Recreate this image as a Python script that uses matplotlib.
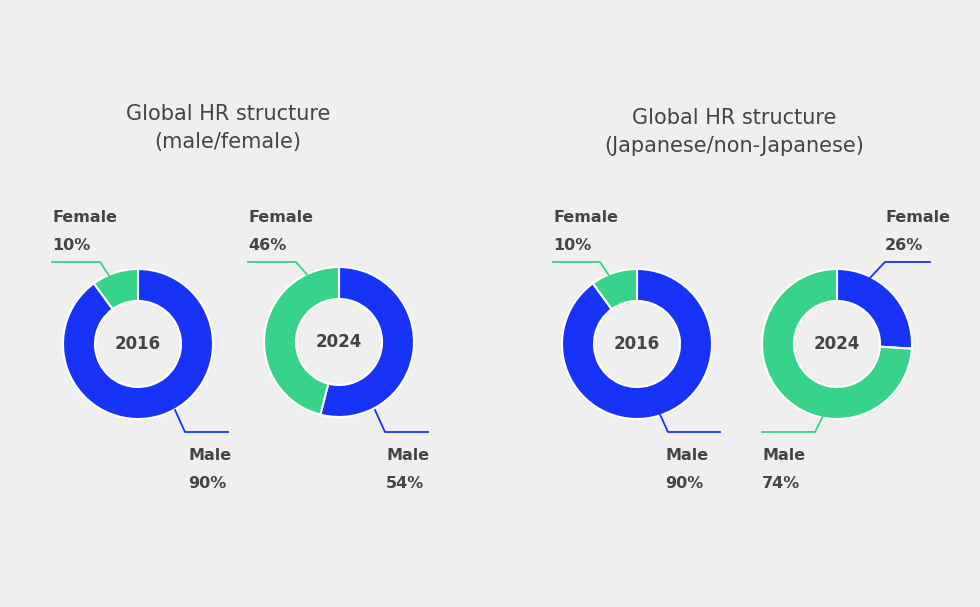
import matplotlib.pyplot as plt

W, H = 980, 607
BLUE = '#1733f7'
GREEN = '#38d38b'
TXT = '#444444'

titles = ['Global HR structure\n(male/female)', 'Global HR structure\n(Japanese/non-Japanese)']
years = ['2016', '2024', '2016', '2024']
# values in drawing order (clockwise from 12 o'clock): blue part, green part
blue_vals = [90, 54, 90, 26]
green_vals = [10, 46, 10, 74]
blue_names = ['Male', 'Male', 'Male', 'Female']
green_names = ['Female', 'Female', 'Female', 'Male']

centers = [(138, 344), (339, 342), (637, 344), (837, 344)]
# label placements: (text x, text y top, line points) in pixel coords
green_lab = [(52, 218, 'left', [(52, 262), (100, 262), (112, 280)]),
             (248, 218, 'left', [(248, 262), (296, 262), (310, 278)]),
             (553, 218, 'left', [(553, 262), (600, 262), (612, 280)]),
             (762, 456, 'left', [(762, 432), (815, 432), (825, 412)])]
blue_lab = [(188, 456, 'left', [(175, 410), (185, 432), (228, 432)]),
            (386, 456, 'left', [(375, 410), (385, 432), (428, 432)]),
            (665, 456, 'left', [(658, 410), (668, 432), (720, 432)]),
            (885, 218, 'left', [(930, 262), (885, 262), (868, 280)])]

fig = plt.figure(figsize=(W / 100, H / 100), dpi=100, facecolor='#efefef')
ax = fig.add_axes([0, 0, 1, 1])
ax.set_facecolor('#efefef')

for i, (cx, cy) in enumerate(centers):
    ax.pie([blue_vals[i], green_vals[i]], colors=[BLUE, GREEN], startangle=90,
           counterclock=False, center=(cx, H - cy), radius=75,
           wedgeprops=dict(width=32, edgecolor='white', linewidth=1.5))
    ax.text(cx, H - cy, years[i], ha='center', va='center', fontsize=12,
            fontweight='bold', color=TXT)
    for lab, names, vals, col in [(green_lab[i], green_names, green_vals, GREEN),
                                  (blue_lab[i], blue_names, blue_vals, BLUE)]:
        tx, ty, ha, pts = lab
        ax.plot([p[0] for p in pts], [H - p[1] for p in pts], color=col, lw=1.3)
        ax.text(tx, H - ty, names[i], ha=ha, va='center', fontsize=11.5,
                fontweight='bold', color=TXT)
        ax.text(tx, H - ty - 27, '%d%%' % vals[i], ha=ha, va='center',
                fontsize=11.5, fontweight='bold', color=TXT)

ax.text(228, H - 128, titles[0], ha='center', va='center', fontsize=15,
        color=TXT, linespacing=1.5)
ax.text(734, H - 132, titles[1], ha='center', va='center', fontsize=15,
        color=TXT, linespacing=1.5)

ax.set_xlim(0, W)
ax.set_ylim(0, H)
ax.set_aspect('auto')
ax.axis('off')
fig.savefig('out.png', dpi=100, facecolor='#efefef')
